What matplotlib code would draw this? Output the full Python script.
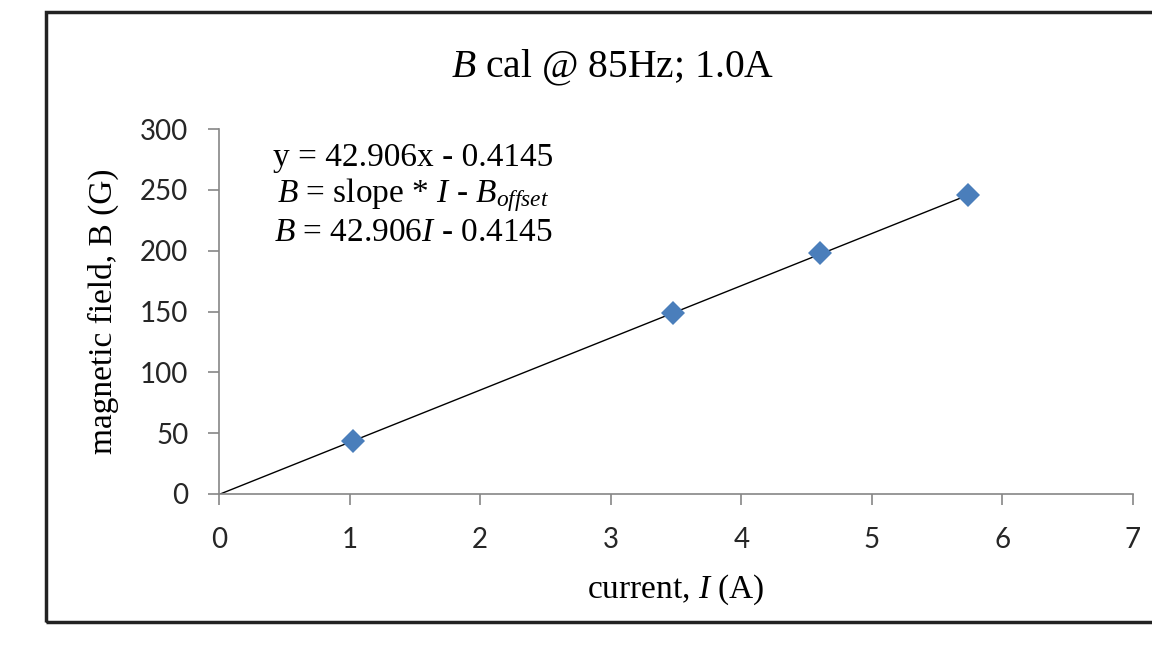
import numpy as np
import matplotlib
matplotlib.use("Agg")
import matplotlib.pyplot as plt
from matplotlib.patches import Rectangle

# measured calibration points
current = [1.03, 3.48, 4.60, 5.74]
field = [43.6, 148.8, 198.0, 245.7]

# linear fit shown on the chart
slope = 42.906
offset = 0.4145

x_ticks = [0, 1, 2, 3, 4, 5, 6, 7]
y_ticks = [0, 50, 100, 150, 200, 250, 300]

serif = "Liberation Serif"
sans = "Lato"

plt.rcParams['mathtext.fontset'] = 'custom'
plt.rcParams['mathtext.rm'] = serif
plt.rcParams['mathtext.it'] = serif + ':italic'

fig = plt.figure(figsize=(11.52, 6.51), dpi=100)
ax = fig.add_axes([0.1901, 0.2412, 0.7934, 0.5606])

fit_x = np.array([0, max(current)])
ax.plot(fit_x, slope * fit_x - offset, color='black', linewidth=1.0, zorder=2)
ax.plot(current, field, 'D', color='#4a7ebb', markersize=12.5, markeredgewidth=0, zorder=3)

ax.set_xlim(0, 7)
ax.set_ylim(0, 300)
ax.set_xticks(x_ticks)
ax.set_yticks(y_ticks)
for s in ['top', 'right']:
    ax.spines[s].set_visible(False)
for s in ['left', 'bottom']:
    ax.spines[s].set_color('#868686')
    ax.spines[s].set_linewidth(1.2)
ax.tick_params(direction='out', length=8, width=1.2, color='#868686',
               labelsize=20, labelcolor='#262626')
ax.tick_params(axis='x', pad=16)
ax.tick_params(axis='y', pad=14)
for lab in ax.get_xticklabels() + ax.get_yticklabels():
    lab.set_fontfamily(sans)

ax.set_xlabel(r'current, $\mathit{I}$ (A)', fontfamily=serif, fontsize=24, labelpad=14)
ax.set_ylabel('magnetic field, B (G)', fontfamily=serif, fontsize=24, labelpad=15)

fig.text(0.532, 0.8955, r'$\mathit{B}$ cal @ 85Hz; 1.0A', fontfamily=serif,
         fontsize=28.5, ha='center', va='center')

eq_lines = ['y = 42.906x - 0.4145',
            r'$\mathit{B}$ = slope * $\mathit{I}$ - $\mathit{B}_{\mathit{offset}}$',
            r'$\mathit{B}$ = 42.906$\mathit{I}$ - 0.4145']
for i, line in enumerate(eq_lines):
    ax.text(1.486, 276 - i * 30.5, line, fontfamily=serif, fontsize=24,
            ha='center', va='center')

# outer frame
fig.add_artist(Rectangle((0.0395, 0.0445), 1.0, 0.937, transform=fig.transFigure,
                         fill=False, edgecolor='#222222', linewidth=2.5))

fig.savefig('out.png', dpi=100)
